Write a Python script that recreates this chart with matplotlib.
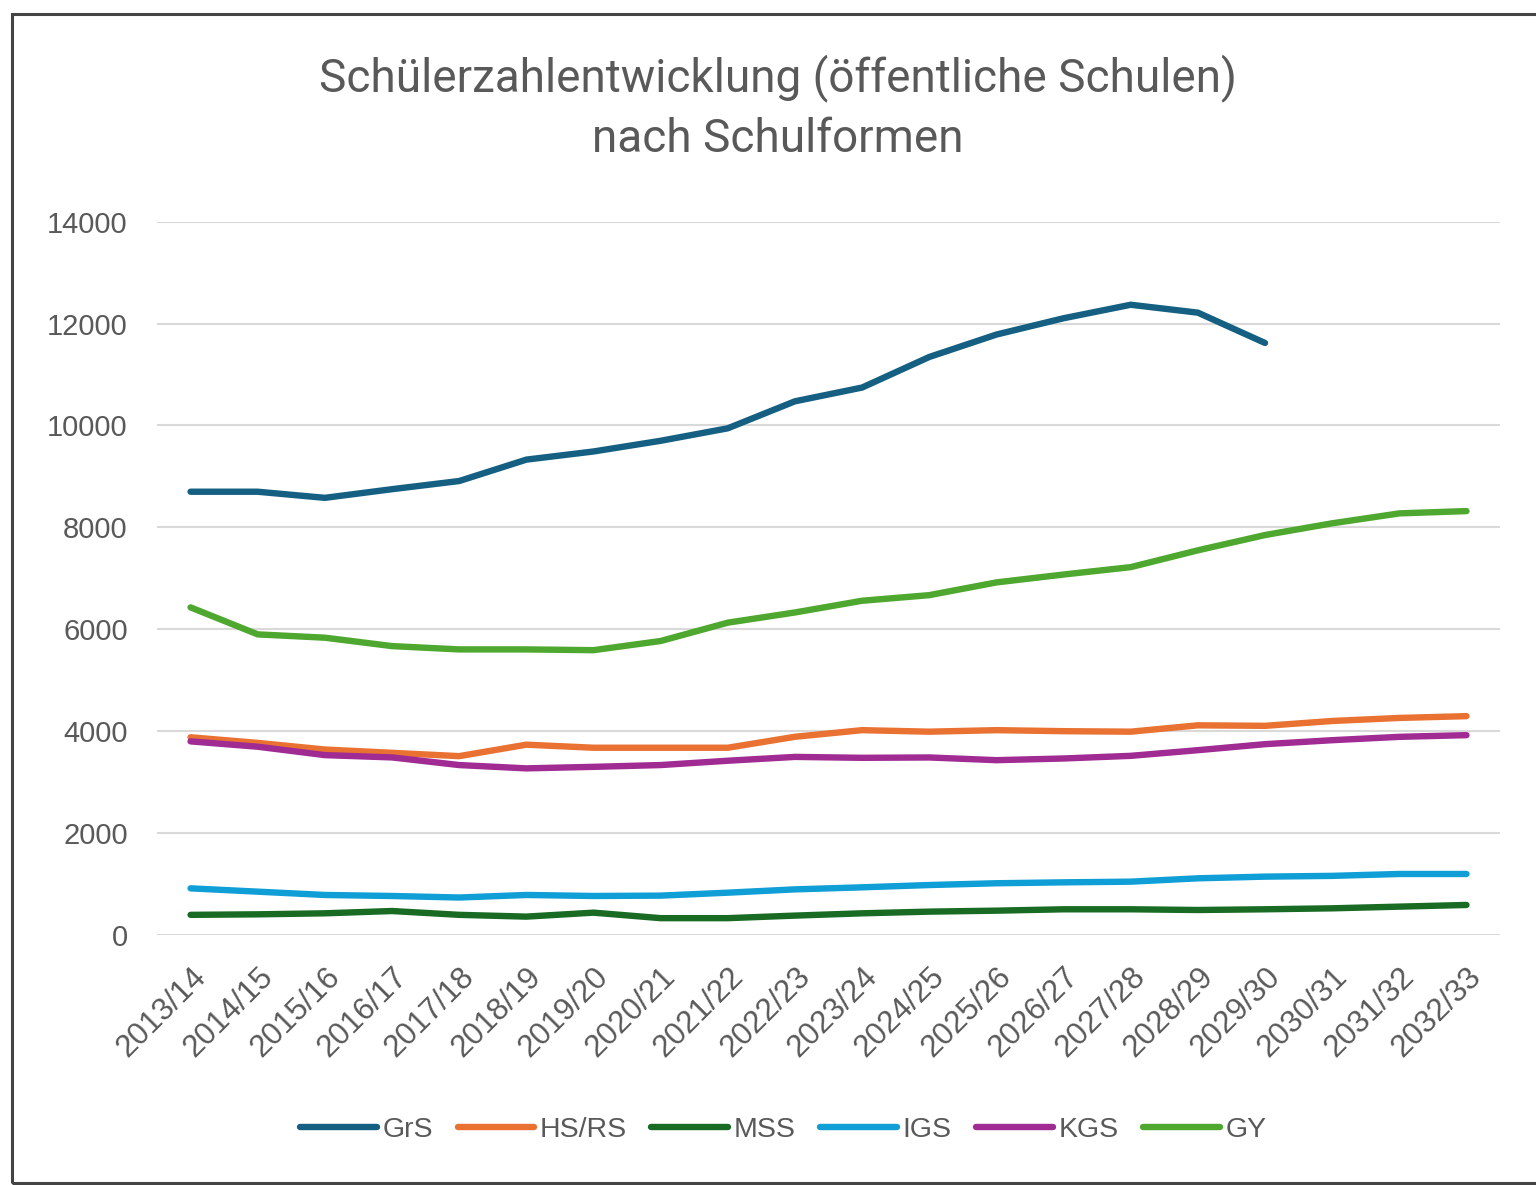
import matplotlib
matplotlib.use("Agg")
import matplotlib.pyplot as plt
from matplotlib.patches import Rectangle
from matplotlib.transforms import ScaledTranslation

# school years
years = ["2013/14", "2014/15", "2015/16", "2016/17", "2017/18", "2018/19",
         "2019/20", "2020/21", "2021/22", "2022/23", "2023/24", "2024/25",
         "2025/26", "2026/27", "2027/28", "2028/29", "2029/30", "2030/31",
         "2031/32", "2032/33"]

# student numbers per school type
grs = [8700, 8700, 8580, 8750, 8910, 9330, 9490, 9700, 9945, 10475,
       10745, 11345, 11785, 12105, 12370, 12215, 11620]
hs_rs = [3880, 3770, 3640, 3575, 3510, 3735, 3675, 3675, 3675, 3890,
         4020, 3990, 4020, 4000, 3990, 4115, 4105, 4200, 4260, 4295]
mss = [395, 405, 425, 470, 395, 360, 438, 330, 330, 380,
       425, 458, 477, 504, 504, 490, 504, 523, 556, 589]
igs = [915, 850, 785, 765, 735, 785, 765, 772, 830, 895,
       935, 980, 1015, 1033, 1046, 1112, 1145, 1160, 1197, 1197]
kgs = [3800, 3695, 3530, 3485, 3335, 3270, 3300, 3335, 3420, 3495,
       3477, 3484, 3431, 3464, 3516, 3627, 3745, 3823, 3889, 3922]
gy = [6430, 5900, 5835, 5670, 5605, 5605, 5590, 5770, 6130, 6330,
      6560, 6670, 6920, 7075, 7220, 7550, 7850, 8080, 8275, 8320]

series = [("GrS", grs, "#156082"), ("HS/RS", hs_rs, "#E97132"),
          ("MSS", mss, "#196B24"), ("IGS", igs, "#0F9ED5"),
          ("KGS", kgs, "#A02B93"), ("GY", gy, "#4EA72E")]

fig = plt.figure(figsize=(15.36, 11.85), dpi=100)
ax = fig.add_axes([0.1022, 0.2110, 0.8744, 0.6019])

#chart border
fig.patches.append(Rectangle((12 / 1536, 2 / 1185), 1.0, 1 - 16 / 1185,
                             transform=fig.transFigure, fill=False,
                             edgecolor="#444444", linewidth=2.2))

for name, vals, col in series:
    ax.plot(range(len(vals)), vals, color=col, linewidth=4.6, label=name,
            solid_capstyle="round", solid_joinstyle="round")

ax.set_xlim(-0.5, len(years) - 0.5)
ax.set_ylim(0, 14000)
ax.set_yticks(range(0, 14001, 2000))
ax.set_xticks(range(len(years)))
ax.set_xticklabels(years, rotation=45, ha="right", rotation_mode="anchor",
                   fontsize=22.5, color="#595959", family="Liberation Sans")
# nudge rotated labels a little to the left
shift = ScaledTranslation(-9 / 100, 0, fig.dpi_scale_trans)
for lab in ax.get_xticklabels():
    lab.set_transform(lab.get_transform() + shift)
for lab in ax.get_yticklabels():
    lab.set_fontsize(21)
    lab.set_color("#595959")
    lab.set_family("Liberation Sans")
ax.tick_params(axis="both", length=0)
ax.tick_params(axis="y", pad=21)
ax.tick_params(axis="x", pad=19)
ax.grid(axis="y", color="#D9D9D9", linewidth=1.5)
ax.set_axisbelow(True)
for s in ax.spines.values():
    s.set_visible(False)

fig.text(0.5065, 0.9093, "Schülerzahlentwicklung (öffentliche Schulen)\nnach Schulformen",
         ha="center", va="center", fontsize=33, color="#595959",
         family="Roboto", linespacing=1.45)

fig.legend(loc="center", bbox_to_anchor=(0.51, 0.0464), ncol=6, frameon=False,
           prop={"family": "Liberation Sans", "size": 20.5},
           handlelength=2.7, handletextpad=0.2, columnspacing=0.85,
           labelcolor="#595959")

fig.savefig("out.png", dpi=100)
